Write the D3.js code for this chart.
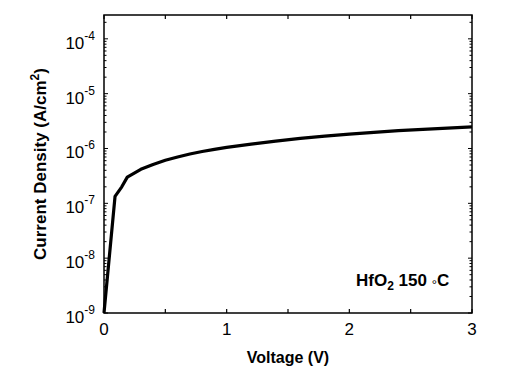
<!DOCTYPE html>
<html>
<head>
<meta charset="utf-8">
<script src="https://cdn.jsdelivr.net/npm/d3@7"></script>
<style>
  body { margin: 0; background: #fff; }
  text { font-family: Arial, "Liberation Sans", sans-serif; }
</style>
</head>
<body>
<script>
var voltage = [0, 0.09, 0.145, 0.19, 0.3, 0.4, 0.5, 0.6, 0.7, 0.8, 0.9, 1.0,
               1.2, 1.4, 1.6, 1.8, 2.0, 2.2, 2.4, 2.6, 2.8, 3.0];
var density = [1e-9, 1.34e-7, 2.0e-7, 3.0e-7, 4.17e-7, 5.13e-7, 6.1e-7, 7.0e-7, 7.94e-7, 8.81e-7, 9.66e-7, 1.047e-6,
               1.2e-6, 1.365e-6, 1.53e-6, 1.68e-6, 1.83e-6, 1.97e-6, 2.11e-6, 2.24e-6, 2.36e-6, 2.47e-6];
var xTicks = [0, 1, 2, 3];
var xMinor = [0.5, 1.5, 2.5];
var yExponents = [-9, -8, -7, -6, -5, -4];

var width = 509, height = 368;
var plotL = 104, plotR = 472, plotT = 15, plotB = 313;

var svg = d3.select("body").append("svg")
    .attr("width", width)
    .attr("height", height);

var x = d3.scaleLinear().domain([0, 3]).range([plotL, plotR]);
var y = d3.scaleLog().domain([1e-9, 2.72e-4]).range([plotB, plotT]);

// curve
var line = d3.line()
    .x(function (d, i) { return x(voltage[i]); })
    .y(function (d) { return y(d); });

svg.append("path")
    .datum(density)
    .attr("d", line)
    .attr("fill", "none")
    .attr("stroke", "#000")
    .attr("stroke-width", 3.2)
    .attr("stroke-linejoin", "round");

// frame
svg.append("rect")
    .attr("x", plotL).attr("y", plotT)
    .attr("width", plotR - plotL).attr("height", plotB - plotT)
    .attr("fill", "none")
    .attr("stroke", "#000")
    .attr("stroke-width", 1.5);

// bottom & top ticks, inward
var xAll = xTicks.concat(xMinor);
xAll.forEach(function (v) {
    svg.append("line").attr("x1", x(v)).attr("x2", x(v))
        .attr("y1", plotB).attr("y2", plotB - 4)
        .attr("stroke", "#000").attr("stroke-width", 1.2);
    svg.append("line").attr("x1", x(v)).attr("x2", x(v))
        .attr("y1", plotT).attr("y2", plotT + 4)
        .attr("stroke", "#000").attr("stroke-width", 1.2);
});

svg.selectAll("text.xlab")
    .data(xTicks)
    .enter()
    .append("text")
    .attr("class", "xlab")
    .attr("x", function (d) { return x(d); })
    .attr("y", 335)
    .attr("text-anchor", "middle")
    .attr("font-size", "17px")
    .text(function (d) { return d; });

// left & right log ticks
var yTicks = y.ticks();
yTicks.forEach(function (v) {
    var exp = Math.log10(v);
    var major = Math.abs(exp - Math.round(exp)) < 1e-6;
    var len = major ? 4 : 2.5;
    svg.append("line").attr("x1", plotL).attr("x2", plotL + len)
        .attr("y1", y(v)).attr("y2", y(v))
        .attr("stroke", "#000").attr("stroke-width", 1);
    svg.append("line").attr("x1", plotR).attr("x2", plotR - len)
        .attr("y1", y(v)).attr("y2", y(v))
        .attr("stroke", "#000").attr("stroke-width", 1);
});

var ylab = svg.selectAll("text.ylab")
    .data(yExponents)
    .enter()
    .append("text")
    .attr("class", "ylab")
    .attr("x", 95)
    .attr("y", function (d) { return y(Math.pow(10, d)) + 10; })
    .attr("text-anchor", "end")
    .attr("font-size", "17px");
ylab.append("tspan").text("10");
ylab.append("tspan")
    .attr("dy", -9)
    .attr("font-size", "12px")
    .text(function (d) { return "-" + Math.abs(d); });

// axis titles
svg.append("text")
    .attr("x", 288)
    .attr("y", 363)
    .attr("text-anchor", "middle")
    .attr("font-size", "16px")
    .attr("font-weight", "bold")
    .text("Voltage (V)");

var yTitle = svg.append("text")
    .attr("transform", "translate(46,164) rotate(-90)")
    .attr("text-anchor", "middle")
    .attr("font-size", "17px")
    .attr("font-weight", "bold");
yTitle.append("tspan").text("Current Density (A/cm");
yTitle.append("tspan").attr("dy", -7).attr("font-size", "12px").text("2");
yTitle.append("tspan").attr("dy", 7).text(")");

// annotation
var note = svg.append("text")
    .attr("x", 356)
    .attr("y", 286)
    .attr("font-size", "17px")
    .attr("font-weight", "bold");
note.append("tspan").text("HfO");
note.append("tspan").attr("dy", 4).attr("font-size", "12px").text("2");
note.append("tspan").attr("dy", -4).text(" 150 ");
note.append("tspan").attr("dy", 2.5).attr("font-size", "13px").attr("font-weight", "normal").text("\u00B0");
note.append("tspan").attr("dy", -2.5).text("C");
</script>
</body>
</html>
